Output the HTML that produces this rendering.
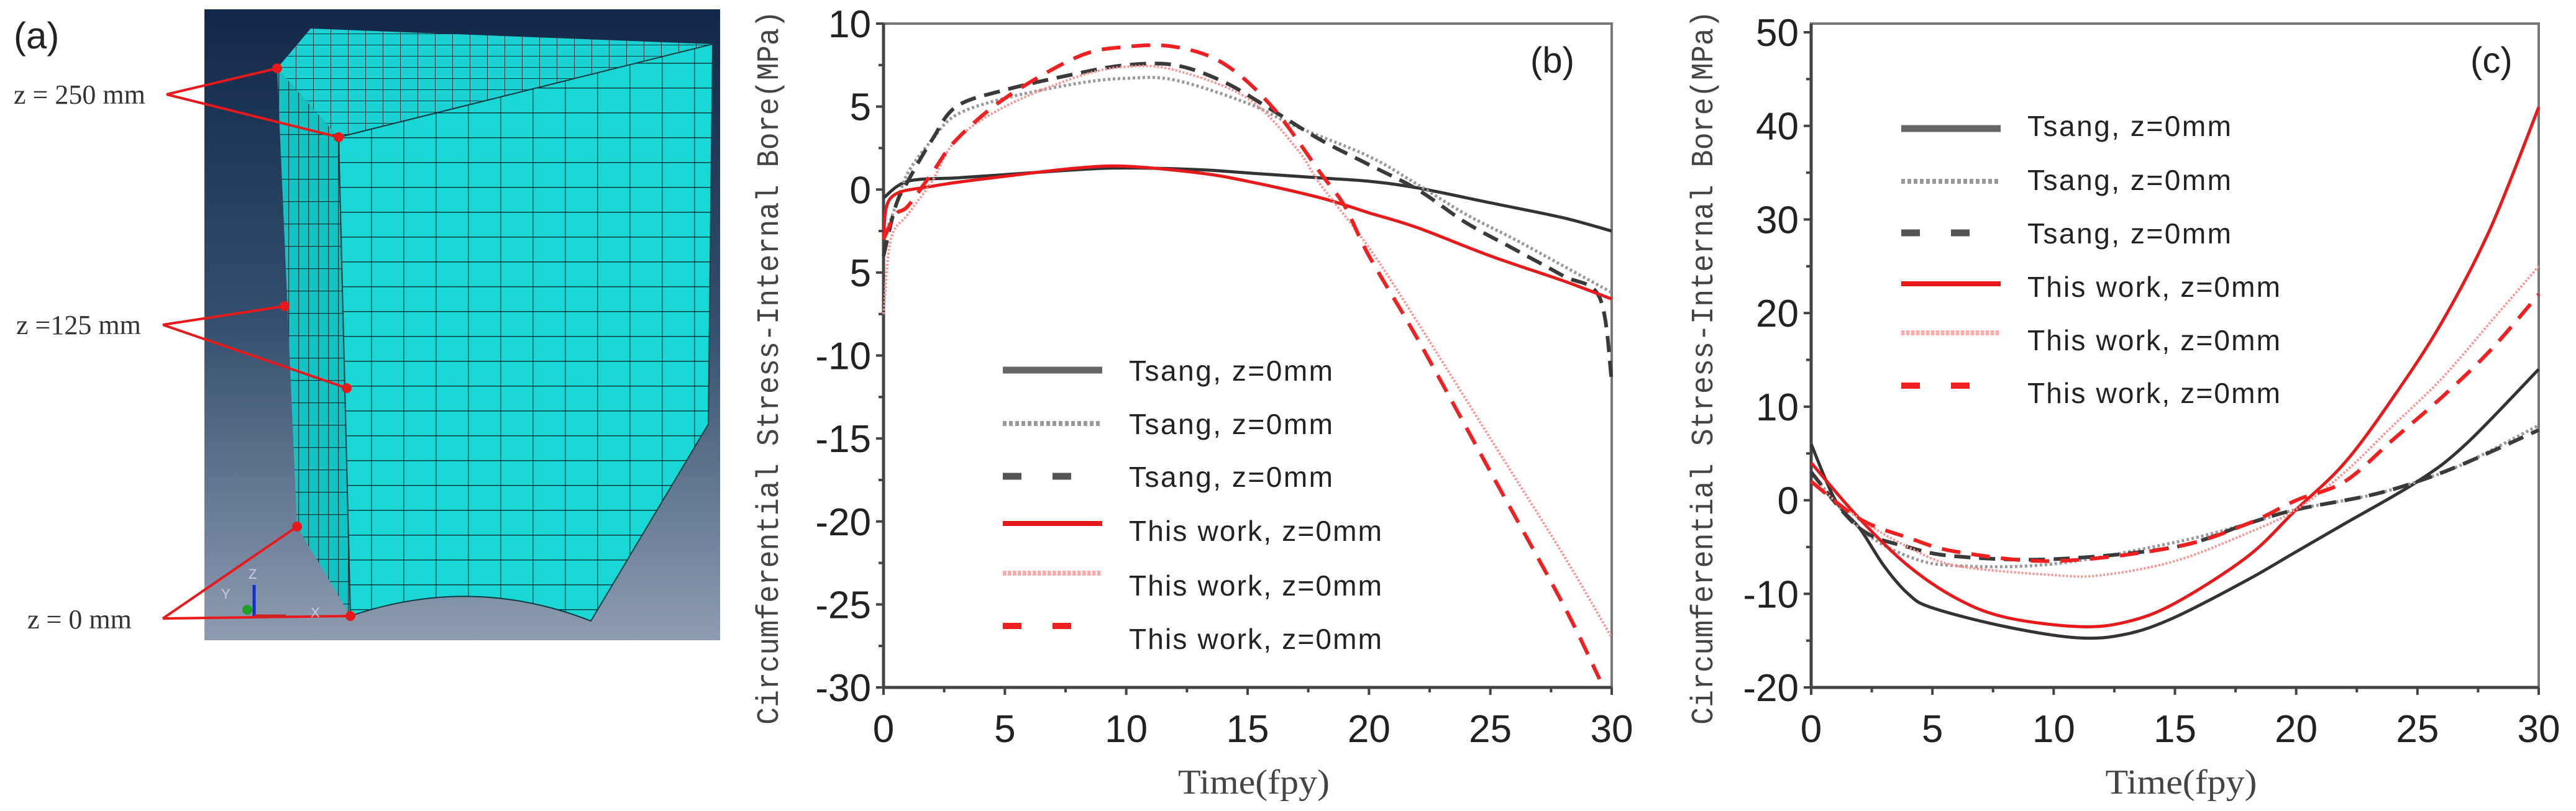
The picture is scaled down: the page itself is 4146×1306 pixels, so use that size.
<!DOCTYPE html>
<html><head><meta charset="utf-8"><style>
html,body{margin:0;padding:0;background:#fff;}
svg{display:block;}
</style></head><body>
<svg id="fig" width="4146" height="1306" viewBox="0 0 4146 1306" xmlns="http://www.w3.org/2000/svg">
<defs>
<linearGradient id="bg" x1="0" y1="0" x2="0" y2="1">
<stop offset="0" stop-color="#122848"/><stop offset="0.5" stop-color="#34506e"/><stop offset="1" stop-color="#8e9cb2"/>
</linearGradient>
<pattern id="gridF" width="52" height="40" patternUnits="userSpaceOnUse" x="545" y="221">
<rect width="52" height="40" fill="#19d7d5"/><path d="M0 0H52M0 0V40" stroke="#0b3b40" stroke-width="3"/>
</pattern>
<pattern id="gridL" width="16" height="36" patternUnits="userSpaceOnUse">
<rect width="16" height="36" fill="#12c4c4"/><path d="M0 0H16M0 0V36" stroke="#0b3b40" stroke-width="2.5"/>
</pattern>
<pattern id="gridT" width="28" height="18" patternUnits="userSpaceOnUse">
<rect width="28" height="18" fill="#1ad2d2"/><path d="M0 0H28M0 0V18" stroke="#0b3b40" stroke-width="2"/>
</pattern>
</defs>
<g>
<text x="22" y="78" font-family="Liberation Sans, sans-serif" font-size="60" fill="#222">(a)</text>
<rect x="329" y="15" width="830" height="1016" fill="url(#bg)"/>
<polygon points="500,46 1147,71 545,221 446,110" fill="url(#gridT)"/>
<polygon points="446,110 545,221 564,992 478,848" fill="url(#gridL)"/>
<path d="M545,221 L1147,71 L1140,683 L951,1000 Q760,925 564,992 Z" fill="url(#gridF)" stroke="#0b3b40" stroke-width="2"/>
<g stroke="#e8191a" stroke-width="4" fill="none">
<path d="M268,152 L446,110 M268,152 L545,221"/>
<path d="M262,523 L458,493 M262,523 L558,625"/>
<path d="M262,996 L478,848 M262,996 L564,992"/>
</g>
<g fill="#e8191a">
<circle cx="446" cy="110" r="8"/><circle cx="545" cy="221" r="8"/><circle cx="458" cy="493" r="8"/><circle cx="558" cy="625" r="8"/><circle cx="478" cy="848" r="8"/><circle cx="564" cy="992" r="8"/>
</g>
<g font-family="Liberation Serif, serif" font-size="44" fill="#333">
<text x="22" y="167">z = 250 mm</text>
<text x="26" y="538">z =125 mm</text>
<text x="44" y="1012">z = 0 mm</text>
</g>
<g>
<line x1="409" y1="992" x2="409" y2="942" stroke="#1030d0" stroke-width="5"/>
<line x1="409" y1="992" x2="460" y2="992" stroke="#d02020" stroke-width="5"/>
<circle cx="398" cy="982" r="8" fill="#20a020"/>
<text x="400" y="932" font-family="Liberation Sans, sans-serif" font-size="22" fill="#ccd">Z</text>
<text x="356" y="964" font-family="Liberation Sans, sans-serif" font-size="22" fill="#ccd">Y</text>
<text x="500" y="994" font-family="Liberation Sans, sans-serif" font-size="22" fill="#ccd">X</text>
</g>
</g>
<g id="pb"></g>
<g id="pc"></g>
</svg>
<script>
// ---- Panel (b) data ----
const bXTicks = [0,5,10,15,20,25,30];
const bYTicks = [10,5,0,-5,-10,-15,-20,-25,-30];
const bYTickLabels = ["10","5","0","5","-10","-15","-20","-25","-30"];
const bTsangSolidX = [0,1,3,5,8,10,13,15,18,20,22,25,28,30];
const bTsangSolidY = [-0.5,0.5,0.7,0.9,1.2,1.3,1.2,1.0,0.7,0.5,0.1,-0.8,-1.7,-2.5];
const bTsangDotX = [0,0.5,1,2,3,5,8,10,12,15,17,20,22,24,26,28,30];
const bTsangDotY = [-3,-1,1,3,4.5,5.5,6.4,6.7,6.6,5.2,3.8,2,0.3,-1.5,-3,-4.6,-6.2];
const bTsangDashX = [0,0.5,1,2,3,5,8,10,12,14,16,18,20,22,24,26,28,29.5,30];
const bTsangDashY = [-4,-1,0.5,3,5,6,7,7.5,7.5,6.5,4.8,3,1.5,0,-2,-3.6,-5.2,-6.5,-11.5];
const bWorkSolidX = [0,0.3,2,5,8,10,13,15,18,20,22,25,28,30];
const bWorkSolidY = [-3,-0.5,0.2,0.8,1.3,1.4,1.0,0.5,-0.5,-1.4,-2.3,-4,-5.5,-6.6];
const bWorkDotX = [0,0.3,1,2,3,5,8,10,12,15,17,18,20,22,25,28,30];
const bWorkDotY = [-7.5,-3,-1.5,0.5,3,5,6.8,7.4,7.2,5.5,2.5,0.3,-3.5,-8,-15,-22,-27];
const bWorkDashX = [0,0.5,1,2,3,5,8,10,12,14,16,18,19,20,22,25,28,29.5];
const bWorkDashY = [-3,-1.5,-1,1,3,5.5,8,8.6,8.6,7.6,5,1,-1,-4,-9,-17,-25,-29.5];

// ---- Panel (c) data ----
const cXTicks = [0,5,10,15,20,25,30];
const cYTicks = [50,40,30,20,10,0,-10,-20];
const cYTickLabels = ["50","40","30","20","10","0","-10","-20"];
const cTsangSolidX = [0,1,2,3,4,5,8,11,13,15,18,20,22,25,27,30];
const cTsangSolidY = [6,0,-3,-7,-10,-11.5,-13.5,-14.7,-14.3,-12.5,-8.5,-5.5,-2.5,2,6,14];
const cTsangDotX = [0,2,4,6,10,15,18,20,23,25,27,30];
const cTsangDotY = [3,-3,-6,-7,-6.8,-4.5,-2.5,-1,0.5,2,4,8];
const cTsangDashX = [0,2,4,6,10,15,18,20,23,25,27,30];
const cTsangDashY = [3,-3,-5,-6,-6.3,-5,-2.5,-1,0.5,2,4,7.5];
const cWorkSolidX = [0,2,4,6,8,11,13,15,18,20,22,24,26,28,30];
const cWorkSolidY = [4,-2,-7,-10.5,-12.5,-13.5,-13,-11,-6,-1,4,11,19,29,42];
const cWorkDotX = [0,2,4,6,10,12,15,18,20,22,24,26,28,30];
const cWorkDotY = [2,-2,-5,-7,-8,-8,-6.5,-3.5,-1,3,8,13,19,25];
const cWorkDashX = [0,2,4,6,10,15,18,20,22,24,26,28,30];
const cWorkDashY = [2,-2,-4,-5.5,-6.5,-5,-2.5,0,2,6.5,11,16,22];

const legendLabels = ["Tsang, z=0mm","Tsang, z=0mm","Tsang, z=0mm","This work, z=0mm","This work, z=0mm","This work, z=0mm"];

const NS = "http://www.w3.org/2000/svg";
function mk(tag, attrs, parent){
  const e = document.createElementNS(NS, tag);
  for (const k in attrs) e.setAttribute(k, attrs[k]);
  parent.appendChild(e); return e;
}
function smoothPath(pts){
  let d = "M"+pts[0][0].toFixed(1)+","+pts[0][1].toFixed(1);
  for (let i=0;i<pts.length-1;i++){
    const p0=pts[Math.max(0,i-1)], p1=pts[i], p2=pts[i+1], p3=pts[Math.min(pts.length-1,i+2)];
    const c1=[p1[0]+(p2[0]-p0[0])/6, p1[1]+(p2[1]-p0[1])/6];
    const c2=[p2[0]-(p3[0]-p1[0])/6, p2[1]-(p3[1]-p1[1])/6];
    d += " C"+c1[0].toFixed(1)+","+c1[1].toFixed(1)+" "+c2[0].toFixed(1)+","+c2[1].toFixed(1)+" "+p2[0].toFixed(1)+","+p2[1].toFixed(1);
  }
  return d;
}
const styles = [
  {stroke:"#333", w:5, dash:"", lw:11, lstroke:"#666", ldash:""},
  {stroke:"#999", w:5, dash:"4 4", lw:8, lstroke:"#999", ldash:"6 4"},
  {stroke:"#3a3a3a", w:6, dash:"26 14", lw:11, lstroke:"#555", ldash:"30 50"},
  {stroke:"#e8191a", w:5, dash:"", lw:8, lstroke:"#e8191a", ldash:""},
  {stroke:"#ff9090", w:4, dash:"3 3", lw:8, lstroke:"#ffaaaa", ldash:"5 3"},
  {stroke:"#f02020", w:6, dash:"30 18", lw:10, lstroke:"#f02020", ldash:"30 50"}
];
const names = ["tsang-solid","tsang-dotted","tsang-dashed","this-work-solid","this-work-dotted","this-work-dashed"];

function drawPanel(g, cfg){
  const {L,R,T,B,FT,xmin,xmax,ymin,ymax,yTicks,yLabels,xTicks,series,legX,legLineY,legTextY,tag,tagX,titleX} = cfg;
  const sx = v => L + (v-xmin)/(xmax-xmin)*(R-L);
  const sy = v => B - (v-ymin)/(ymax-ymin)*(B-T);
  let fr = mk("rect",{x:L,y:FT,width:R-L,height:B-FT,fill:"none",stroke:"#777","stroke-width":4},g);
  
  
  let ya = mk("line",{x1:L,y1:FT,x2:L,y2:B,stroke:"#444","stroke-width":5},g);
  
  
  let xa = mk("line",{x1:L,y1:B,x2:R,y2:B,stroke:"#444","stroke-width":5},g);
  
  
  yTicks.forEach((v,i)=>{
    const y = sy(v);
    let t = mk("line",{x1:L-12,y1:y,x2:L,y2:y,stroke:"#444","stroke-width":4},g);
    
    
    let tx = mk("text",{x:L-20,y:y+22,"text-anchor":"end","font-family":"Liberation Sans, sans-serif","font-size":62,fill:"#222"},g);
    tx.textContent = yLabels[i];
    
    
    if (i<yTicks.length-1){
      const ym = sy((v+yTicks[i+1])/2);
      let m = mk("line",{x1:L-8,y1:ym,x2:L,y2:ym,stroke:"#444","stroke-width":4},g);
      
      
    }
  });
  xTicks.forEach((v,i)=>{
    const x = sx(v);
    let t = mk("line",{x1:x,y1:B,x2:x,y2:B+12,stroke:"#444","stroke-width":4},g);
    
    
    let tx = mk("text",{x:x,y:B+88,"text-anchor":"middle","font-family":"Liberation Sans, sans-serif","font-size":62,fill:"#222"},g);
    tx.textContent = String(v);
    
    
    if (i<xTicks.length-1){
      const xm = sx((v+xTicks[i+1])/2);
      let m = mk("line",{x1:xm,y1:B,x2:xm,y2:B+8,stroke:"#444","stroke-width":4},g);
      
      
    }
  });
  let xt = mk("text",{x:(L+R)/2+10,y:1278,"text-anchor":"middle","font-family":"Liberation Serif, serif","font-size":56,fill:"#444",textLength:244,lengthAdjust:"spacingAndGlyphs"},g);
  xt.textContent = "Time(fpy)";
  
  
  let yt = mk("text",{x:0,y:0,"text-anchor":"middle","font-family":"Liberation Mono, monospace","font-size":50,fill:"#444",transform:"translate("+titleX+",592) rotate(-90)",textLength:1150,lengthAdjust:"spacingAndGlyphs"},g);
  yt.textContent = "Circumferential Stress-Internal Bore(MPa)";
  
  
  let tg = mk("text",{x:tagX,y:117,"font-family":"Liberation Sans, sans-serif","font-size":58,fill:"#222"},g);
  tg.textContent = tag;
  
  
  series.forEach((s,i)=>{
    const pts = s[0].map((x,j)=>[sx(x), sy(s[1][j])]);
    const st = styles[i];
    let p = mk("path",{d:smoothPath(pts),fill:"none",stroke:st.stroke,"stroke-width":st.w,"stroke-dasharray":st.dash,"stroke-linejoin":"round"},g);
    
    
  });
  legendLabels.forEach((lab,i)=>{
    const st = styles[i];
    const ly = legLineY[i];
    let ln = mk("line",{x1:legX,y1:ly,x2:legX+160,y2:ly,stroke:st.lstroke,"stroke-width":st.lw,"stroke-dasharray":st.ldash},g);
    
    
    let tx = mk("text",{x:legX+203,y:legTextY[i]+17,"font-family":"Liberation Sans, sans-serif","font-size":46,fill:"#222",textLength:(i<3?328:407),lengthAdjust:"spacing"},g);
    tx.textContent = lab;
    
    
  });
}

drawPanel(document.getElementById("pb"),{
  L:1422,R:2594,T:38,B:1107,FT:38,xmin:0,xmax:30,ymin:-30,ymax:10,
  yTicks:bYTicks,yLabels:bYTickLabels,xTicks:bXTicks,
  series:[[bTsangSolidX,bTsangSolidY],[bTsangDotX,bTsangDotY],[bTsangDashX,bTsangDashY],[bWorkSolidX,bWorkSolidY],[bWorkDotX,bWorkDotY],[bWorkDashX,bWorkDashY]],
  legX:1614,legLineY:[596,682,767,843,923,1008],legTextY:[596,682,767,854,942,1028],tag:"(b)",tagX:2463,titleX:1252
});
drawPanel(document.getElementById("pc"),{
  L:2915,R:4086,T:52,B:1107,FT:38,xmin:0,xmax:30,ymin:-20,ymax:50,
  yTicks:cYTicks,yLabels:cYTickLabels,xTicks:cXTicks,
  series:[[cTsangSolidX,cTsangSolidY],[cTsangDotX,cTsangDotY],[cTsangDashX,cTsangDashY],[cWorkSolidX,cWorkSolidY],[cWorkDotX,cWorkDotY],[cWorkDashX,cWorkDashY]],
  legX:3060,legLineY:[207,292,375,457,536,621],legTextY:[202,289,375,461,547,632],tag:"(c)",tagX:3976,titleX:2756
});
</script>
</body></html>
